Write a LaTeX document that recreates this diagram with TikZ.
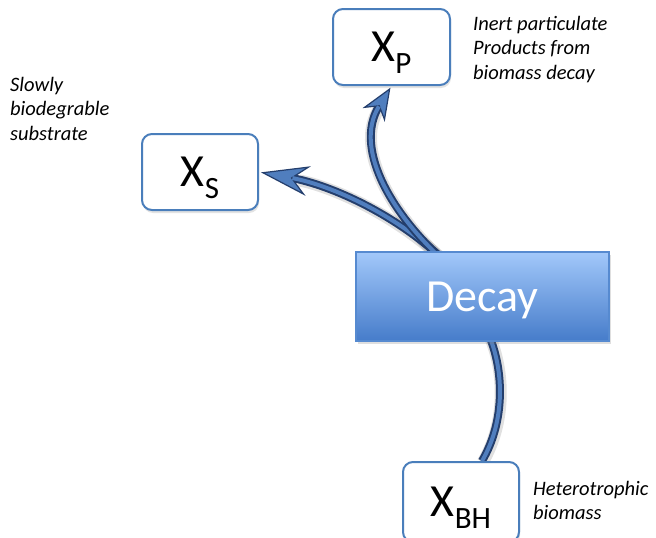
\documentclass[tikz,border=0pt]{standalone}
\usepackage{fontspec}
\setmainfont{Carlito}
\usetikzlibrary{arrows.meta,shadows,backgrounds,calc}

\definecolor{boxblue}{RGB}{74,126,187}
\definecolor{arrdark}{RGB}{36,62,108}
\definecolor{arrfill}{RGB}{80,126,190}
\definecolor{decaytop}{RGB}{162,200,250}
\definecolor{decaybot}{RGB}{70,124,202}
\definecolor{decayedge}{RGB}{86,138,208}

% state variable name with a lowered subscript
\newcommand\poolname[2]{{\fontsize{46}{46}\selectfont #1}\raisebox{-12pt}{\fontsize{31}{31}\selectfont #2}}

\begin{document}
\begin{tikzpicture}[x=1pt,y=-1pt,
  pool/.style={draw=boxblue, line width=2pt, fill=white, rounded corners=10pt,
    minimum width=116pt, minimum height=76pt, inner sep=0pt,
    text height=29pt, text depth=0pt,
    drop shadow={shadow xshift=1pt, shadow yshift=-3pt, opacity=0.22}},
  process/.style={draw=decayedge, line width=1.2pt, top color=decaytop, bottom color=decaybot,
    minimum width=253pt, minimum height=89pt, inner sep=0pt,
    text height=29pt, text depth=0pt, text=white,
    font=\fontsize{46}{46}\selectfont,
    drop shadow={shadow xshift=2pt, shadow yshift=-3pt, opacity=0.25}},
  note/.style={font=\fontsize{20.5}{24.5}\selectfont\itshape, text=black,
    align=left, anchor=north west, inner sep=0pt},
  flowout/.style={draw=arrdark, line width=8pt},
  flowin/.style={draw=arrfill, line width=4pt},
  flowshade/.style={draw=black, opacity=0.12, line width=12pt,
    transform canvas={xshift=0.8pt, yshift=-1.2pt}},
  bigtip/.tip={Stealth[length=48pt, width=30pt, inset=16pt, line width=1.2pt, fill=arrfill]},
  smalltip/.tip={Stealth[length=32pt, width=26pt, inset=10pt, line width=1.2pt, fill=arrfill]},
]
\useasboundingbox (0,0) rectangle (656,538);

% state variables
\node[pool] (xs) at (200,172) {\poolname{X}{S}};
\node[pool, minimum width=117pt] (xp) at (391.5,47) {\poolname{X}{P}};
\node[pool, minimum height=80pt] (xbh) at (461,502) {\poolname{X}{BH}};

% process
\node[process] (decay) at (482.5,296.5) {Decay};

% descriptions
\node[note] (nxs) at (10,77) {Slowly\\biodegrable\\substrate};
\node[note] (nxp) at (473,16) {Inert particulate\\Products from\\biomass decay};
\node[note] (nxbh) at (533,481) {Heterotrophic\\biomass};

% flows, drawn behind the boxes
\begin{scope}[on background layer]
  \fill[white] (0,0) rectangle (656,538);
  \coordinate (hub) at (452,268);
  \coordinate (feed) at ($(xbh.north)+(21,0)$);

  % soft shadows
  \draw[flowshade] (feed) .. controls (506,420) and (503,370) .. (490,338)
    .. controls (480,310) .. (hub);
  \draw[flowshade, shorten >=40pt] (hub) .. controls (400,215) and (330,185) .. (xs.east);
  \draw[flowshade, shorten >=26pt] (hub) .. controls (395,220) and (352,150) .. (xp.south);

  % decay feed from the biomass
  \draw[flowout] (feed) .. controls (506,420) and (503,370) .. (490,338)
    .. controls (480,310) .. (hub);
  \draw[flowin] (feed) .. controls (506,420) and (503,370) .. (490,338)
    .. controls (480,310) .. (hub);

  % products of decay
  \draw[flowout, shorten >=2pt, -{bigtip}] (hub) .. controls (400,215) and (330,185) .. (xs.east);
  \draw[flowin, shorten >=34pt] (hub) .. controls (400,215) and (330,185) .. (xs.east);

  \draw[flowout, shorten >=2pt, -{smalltip}] (hub) .. controls (395,220) and (352,150) .. (xp.south);
  \draw[flowin, shorten >=24pt] (hub) .. controls (395,220) and (352,150) .. (xp.south);
\end{scope}
\end{tikzpicture}
\end{document}
